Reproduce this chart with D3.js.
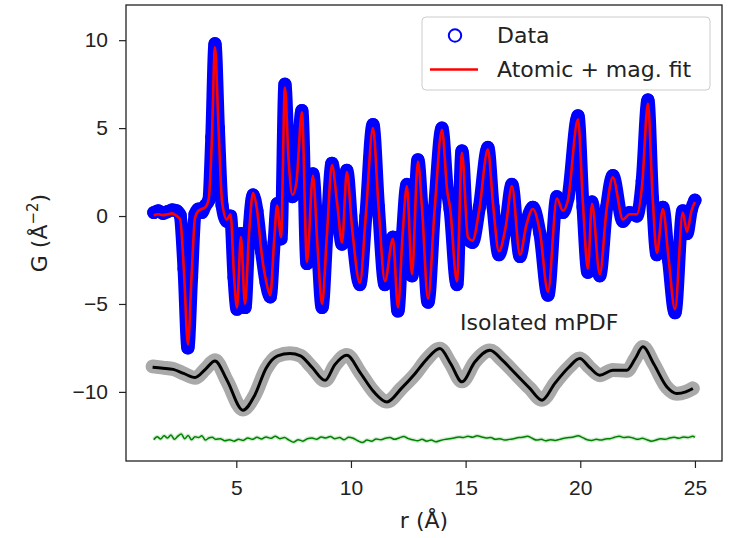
<!DOCTYPE html>
<html lang="en">
<head>
<meta charset="UTF-8">
<title>PDF fit with isolated mPDF</title>
<script src="https://cdn.jsdelivr.net/npm/d3@7"></script>
<style>
  body { margin: 0; background: #fff; }
  svg { display: block; font-family: "DejaVu Sans", sans-serif; }
  .tick text { font-size: 21px; fill: #222; }
  .tick line { stroke: #222; stroke-width: 1.2px; }
</style>
</head>
<body>
<svg id="chart" width="730" height="538"></svg>
<script>
// atomic + magnetic PDF (r in Angstrom)
const rPdf = [1.40, 1.60, 1.80, 2.00, 2.20, 2.40, 2.55, 2.72, 2.89, 3.05, 3.20, 3.35, 3.50, 3.65, 3.80, 3.93, 4.07, 4.22, 4.38, 4.59,
  4.75, 4.90, 5.03, 5.20, 5.38, 5.55, 5.73, 5.90, 6.10, 6.30, 6.48, 6.65, 6.78, 6.95, 7.12, 7.28, 7.45, 7.62, 7.86, 8.08,
  8.34, 8.55, 8.74, 8.95, 9.17, 9.40, 9.61, 9.82, 10.05, 10.39, 10.65, 10.96, 11.20, 11.48, 11.83, 12.05, 12.25, 12.44, 12.66, 12.92,
  13.10, 13.36, 13.65, 13.97, 14.20, 14.32, 14.62, 14.84, 15.10, 15.30, 15.60, 15.97, 16.20, 16.45, 16.75, 17.02, 17.37, 17.65, 17.93, 18.24,
  18.59, 18.98, 19.24, 19.46, 19.90, 20.12, 20.33, 20.51, 20.85, 21.15, 21.42, 21.86, 22.15, 22.47, 22.70, 22.95, 23.15, 23.34, 23.60, 23.85,
  24.13, 24.47, 24.65, 24.85, 25.00];
const gData = [0.20, 0.30, 0.15, 0.25, 0.35, 0.30, 0.05, -3.00, -7.50, -3.50, 0.10, 0.40, 0.20, 0.60, 0.90, 4.50, 9.80, 5.00, 0.60, -0.30,
  0.00, -3.50, -5.30, -1.00, -5.20, -1.00, 1.20, 0.30, -2.00, -3.80, -4.60, -1.50, 0.70, -1.30, 7.50, 3.00, 1.10, 2.00, 6.00, -2.70,
  2.40, -1.80, -5.20, -1.00, 3.00, 0.60, -1.60, 2.60, -0.80, -3.90, 0.00, 5.20, 0.50, -3.90, -1.20, -5.40, -1.00, 1.80, -3.40, 3.20,
  0.30, -4.90, 0.50, 5.00, 1.50, 0.40, -3.90, 3.70, -1.30, -1.50, 0.50, 3.90, 0.50, -2.20, -0.50, 1.80, -2.30, -0.40, 0.50, -1.00,
  -4.50, 1.10, 0.20, 1.00, 5.70, 0.50, -3.20, 0.80, -3.40, 0.50, 2.30, -0.30, 0.20, 0.00, 2.00, 6.60, 1.00, -2.20, 0.50, -2.50,
  -5.50, 0.30, -1.00, 0.40, 0.90];
const gFit = [0.05, 0.10, 0.05, 0.10, 0.15, 0.00, -0.20, -3.20, -7.30, -3.40, -0.10, 0.30, 0.40, 0.50, 1.00, 4.20, 9.60, 5.20, 0.80, -0.20,
  0.10, -3.40, -5.20, -1.20, -5.00, -1.10, 1.30, 0.40, -2.10, -3.70, -4.50, -1.40, 0.60, -1.20, 7.30, 3.20, 1.20, 1.90, 5.90, -2.60,
  2.30, -1.90, -5.00, -1.10, 2.90, 0.70, -1.50, 2.50, -0.70, -3.80, 0.10, 5.00, 0.60, -3.70, -1.30, -5.20, -1.10, 1.70, -3.30, 3.10,
  0.40, -4.70, 0.40, 4.90, 1.40, 0.50, -3.70, 3.60, -1.20, -1.40, 0.40, 3.80, 0.60, -2.00, -0.60, 1.70, -2.20, -0.50, 0.40, -0.90,
  -4.30, 1.00, 0.30, 0.90, 5.50, 0.60, -3.00, 0.70, -3.30, 0.40, 2.20, -0.20, 0.10, 0.10, 1.80, 6.40, 1.20, -2.10, 0.40, -2.40,
  -5.30, 0.20, -0.90, 0.30, 0.80];

// isolated magnetic PDF, offset below
const rMag = [1.35, 1.80, 2.25, 2.70, 3.20, 3.65, 4.07, 4.60, 5.29, 5.80, 6.30, 6.80, 7.34, 7.80, 8.30, 8.87, 9.30, 9.82, 10.40, 11.00,
  11.57, 12.20, 12.80, 13.30, 13.88, 14.35, 14.84, 15.40, 16.06, 16.60, 17.20, 17.80, 18.33, 18.90, 19.50, 19.98, 20.40, 20.85, 21.42, 22.03,
  22.40, 22.73, 23.20, 23.78, 24.21, 24.60, 24.91];
const gMagData = [-8.55, -8.62, -8.70, -8.95, -9.20, -8.70, -8.20, -9.40, -11.00, -10.20, -8.70, -7.95, -7.80, -7.95, -8.60, -9.35, -8.50, -7.90, -8.90, -10.00,
  -10.55, -9.80, -9.00, -8.15, -7.55, -8.40, -9.40, -8.30, -7.65, -8.20, -9.00, -9.80, -10.45, -9.50, -8.60, -8.10, -8.60, -9.05, -8.75, -8.80,
  -8.10, -7.45, -8.40, -9.75, -10.10, -10.00, -9.80];
const gMagFit = [-8.60, -8.65, -8.72, -8.95, -9.18, -8.72, -8.24, -9.35, -11.04, -10.20, -8.65, -7.95, -7.82, -7.95, -8.60, -9.34, -8.45, -7.92, -8.90, -10.00,
  -10.57, -9.80, -8.95, -8.15, -7.53, -8.40, -9.43, -8.30, -7.63, -8.20, -9.00, -9.80, -10.47, -9.50, -8.60, -8.10, -8.60, -9.05, -8.77, -8.77,
  -8.10, -7.44, -8.40, -9.72, -10.09, -10.00, -9.81];

// difference curve, offset
const rDiff = [1.40, 1.55, 1.70, 1.85, 2.00, 2.15, 2.30, 2.45, 2.60, 2.75, 2.90, 3.05, 3.20, 3.35, 3.50, 3.65, 3.80, 3.95, 4.10, 4.30,
  4.50, 4.70, 4.90, 5.10, 5.30, 5.50, 5.70, 5.90, 6.10, 6.30, 6.50, 6.70, 6.90, 7.10, 7.30, 7.50, 7.70, 7.90, 8.10, 8.30,
  8.50, 8.70, 8.90, 9.10, 9.30, 9.50, 9.70, 9.90, 10.10, 10.30, 10.50, 10.70, 10.90, 11.10, 11.30, 11.50, 11.70, 11.90, 12.10, 12.30,
  12.50, 12.70, 12.90, 13.10, 13.30, 13.50, 13.70, 13.90, 14.10, 14.30, 14.50, 14.70, 14.90, 15.10, 15.30, 15.50, 15.70, 15.90, 16.10, 16.30,
  16.50, 16.70, 16.90, 17.10, 17.30, 17.50, 17.70, 17.90, 18.10, 18.30, 18.50, 18.70, 18.90, 19.10, 19.30, 19.50, 19.70, 19.90, 20.10, 20.30,
  20.50, 20.70, 20.90, 21.10, 21.30, 21.50, 21.70, 21.90, 22.10, 22.30, 22.50, 22.70, 22.90, 23.10, 23.30, 23.50, 23.70, 23.90, 24.10, 24.30,
  24.50, 24.70, 24.90, 25.00];
const gDiff = [-12.72, -12.55, -12.68, -12.50, -12.62, -12.45, -12.70, -12.52, -12.40, -12.66, -12.48, -12.72, -12.55, -12.60, -12.50, -12.74, -12.62, -12.58, -12.70, -12.66,
  -12.78, -12.72, -12.80, -12.70, -12.76, -12.62, -12.70, -12.58, -12.68, -12.56, -12.64, -12.52, -12.66, -12.60, -12.74, -12.86, -12.72, -12.80, -12.66, -12.62,
  -12.70, -12.56, -12.62, -12.54, -12.66, -12.60, -12.72, -12.58, -12.64, -12.78, -12.88, -12.74, -12.80, -12.68, -12.72, -12.64, -12.60, -12.70, -12.62, -12.54,
  -12.66, -12.72, -12.78, -12.70, -12.80, -12.74, -12.84, -12.76, -12.70, -12.66, -12.62, -12.56, -12.60, -12.52, -12.58, -12.50, -12.56, -12.62, -12.60, -12.70,
  -12.66, -12.74, -12.70, -12.66, -12.60, -12.58, -12.52, -12.64, -12.74, -12.70, -12.78, -12.72, -12.76, -12.70, -12.64, -12.60, -12.56, -12.50, -12.60, -12.72,
  -12.76, -12.70, -12.74, -12.68, -12.66, -12.58, -12.52, -12.60, -12.56, -12.62, -12.70, -12.64, -12.72, -12.80, -12.74, -12.66, -12.70, -12.62, -12.58, -12.64,
  -12.56, -12.60, -12.52, -12.58];

const xTicks = [5, 10, 15, 20, 25];
const yTicks = [-10, -5, 0, 5, 10];

const svg = d3.select("#chart");
const box = {left: 126, right: 722, top: 5, bottom: 461};

const x = d3.scaleLinear().domain([0.19, 26.18]).range([box.left, box.right]);
const y = d3.scaleLinear().domain([-13.93, 12.0]).range([box.bottom, box.top]);

const line = (rs, gs) => d3.line()
    .x((d, i) => x(rs[i]))
    .y(d => y(d))
    .curve(d3.curveMonotoneX)(gs);

// isolated mPDF: thick grey data, black fit
svg.append("path")
    .attr("d", line(rMag, gMagData))
    .attr("fill", "none")
    .attr("stroke", "#a9a9a9")
    .attr("stroke-width", 14)
    .attr("stroke-linejoin", "round")
    .attr("stroke-linecap", "round");
svg.append("path")
    .attr("d", line(rMag, gMagFit))
    .attr("fill", "none")
    .attr("stroke", "#000")
    .attr("stroke-width", 3);

// difference
svg.append("path")
    .attr("d", line(rDiff, gDiff))
    .attr("fill", "none")
    .attr("stroke", "#9fd89f")
    .attr("stroke-opacity", 0.5)
    .attr("stroke-width", 4);
svg.append("path")
    .attr("d", line(rDiff, gDiff))
    .attr("fill", "none")
    .attr("stroke", "#008000")
    .attr("stroke-width", 1.5);

// data as open circles (dense, so drawn as a band too)
svg.append("path")
    .attr("d", line(rPdf, gData))
    .attr("fill", "none")
    .attr("stroke", "#0000ff")
    .attr("stroke-width", 13)
    .attr("stroke-linejoin", "round")
    .attr("stroke-linecap", "round");
svg.append("g")
    .selectAll("circle")
    .data(gData)
    .join("circle")
    .attr("cx", (d, i) => x(rPdf[i]))
    .attr("cy", d => y(d))
    .attr("r", 5.8)
    .attr("fill", "none")
    .attr("stroke", "#0000ff")
    .attr("stroke-width", 1.6);

svg.append("path")
    .attr("d", line(rPdf, gFit))
    .attr("fill", "none")
    .attr("stroke", "#ff0000")
    .attr("stroke-width", 2.6);

// axes
const xAxis = svg.append("g")
    .attr("transform", `translate(0,${box.bottom})`)
    .call(d3.axisBottom(x).tickValues(xTicks).tickSize(7).tickPadding(12).tickFormat(d3.format("d")));
const yAxis = svg.append("g")
    .attr("transform", `translate(${box.left},0)`)
    .call(d3.axisLeft(y).tickValues(yTicks).tickSize(7).tickPadding(11).tickFormat(d3.format("d")));
xAxis.select(".domain").remove();
yAxis.select(".domain").remove();

svg.append("rect")
    .attr("x", box.left)
    .attr("y", box.top)
    .attr("width", box.right - box.left)
    .attr("height", box.bottom - box.top)
    .attr("fill", "none")
    .attr("stroke", "#222")
    .attr("stroke-width", 1.3);

// labels
svg.append("text")
    .attr("x", (box.left + box.right) / 2)
    .attr("y", 528)
    .attr("text-anchor", "middle")
    .attr("font-size", 22)
    .attr("fill", "#222")
    .text("r (Å)");

const yl = svg.append("text")
    .attr("transform", "translate(47,233) rotate(-90)")
    .attr("text-anchor", "middle")
    .attr("font-size", 22)
    .attr("fill", "#222");
yl.append("tspan").text("G (Å");
yl.append("tspan").attr("font-size", 15).attr("dy", -9).text("−2");
yl.append("tspan").attr("dy", 9).text(")");

svg.append("text")
    .attr("x", 460)
    .attr("y", 330)
    .attr("font-size", 22)
    .attr("fill", "#222")
    .text("Isolated mPDF");

// legend
const legend = svg.append("g");
legend.append("rect")
    .attr("x", 422).attr("y", 17)
    .attr("width", 288).attr("height", 73)
    .attr("rx", 4)
    .attr("fill", "#fff").attr("fill-opacity", 0.8)
    .attr("stroke", "#cccccc").attr("stroke-width", 1);
legend.append("circle")
    .attr("cx", 455).attr("cy", 35.5).attr("r", 6.2)
    .attr("fill", "none").attr("stroke", "#0000ff").attr("stroke-width", 2);
legend.append("line")
    .attr("x1", 430).attr("x2", 478).attr("y1", 69.5).attr("y2", 69.5)
    .attr("stroke", "#ff0000").attr("stroke-width", 2.6);
legend.append("text")
    .attr("x", 497).attr("y", 35.5).attr("dy", "0.35em")
    .attr("font-size", 22).attr("fill", "#222")
    .text("Data");
legend.append("text")
    .attr("x", 497).attr("y", 69.5).attr("dy", "0.35em")
    .attr("font-size", 22).attr("fill", "#222")
    .text("Atomic + mag. fit");
</script>
</body>
</html>
